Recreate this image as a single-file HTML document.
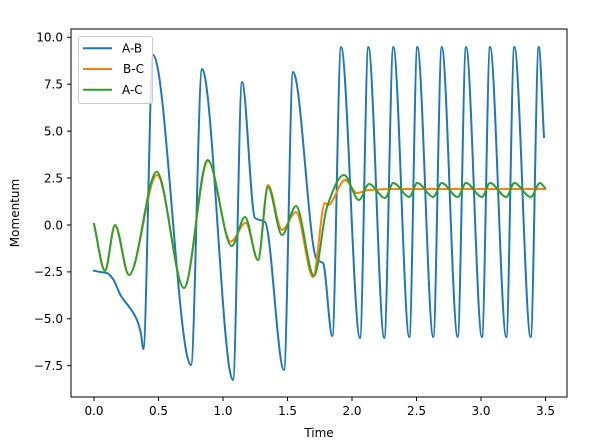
<!DOCTYPE html>
<html><head><meta charset="utf-8"><style>
body{margin:0;background:#fff;}
svg{display:block;font-family:"DejaVu Sans","Liberation Sans",sans-serif;}
</style></head><body>
<svg id="s" width="602" height="444" viewBox="0 0 602 444" xmlns="http://www.w3.org/2000/svg">
<rect width="602" height="444" fill="#fff"/>
<g id="plot" fill="none" stroke-width="2" stroke-linejoin="round" stroke-linecap="square">
<path id="pB" stroke="#1f77b4"/>
<path id="pO" stroke="#ff7f0e"/>
<path id="pG" stroke="#2ca02c"/>
</g>
<rect x="71" y="29" width="496" height="368" fill="none" stroke="#000" stroke-width="1"/>
<g stroke="#000" stroke-width="1">
<line x1="94" y1="397" x2="94" y2="401"/><line x1="158.5" y1="397" x2="158.5" y2="401"/>
<line x1="223" y1="397" x2="223" y2="401"/><line x1="287.5" y1="397" x2="287.5" y2="401"/>
<line x1="352" y1="397" x2="352" y2="401"/><line x1="416.5" y1="397" x2="416.5" y2="401"/>
<line x1="481" y1="397" x2="481" y2="401"/><line x1="545.5" y1="397" x2="545.5" y2="401"/>
<line x1="67" y1="37.3" x2="71" y2="37.3"/><line x1="67" y1="84.2" x2="71" y2="84.2"/>
<line x1="67" y1="131.1" x2="71" y2="131.1"/><line x1="67" y1="178" x2="71" y2="178"/>
<line x1="67" y1="225" x2="71" y2="225"/><line x1="67" y1="271.9" x2="71" y2="271.9"/>
<line x1="67" y1="318.8" x2="71" y2="318.8"/><line x1="67" y1="365.7" x2="71" y2="365.7"/>
</g>
<g font-size="12" fill="#000" text-anchor="middle">
<text x="94" y="415">0.0</text><text x="158.5" y="415">0.5</text><text x="223" y="415">1.0</text>
<text x="287.5" y="415">1.5</text><text x="352" y="415">2.0</text><text x="416.5" y="415">2.5</text>
<text x="481" y="415">3.0</text><text x="545.5" y="415">3.5</text>
<text x="319" y="437">Time</text>
</g>
<g font-size="12" fill="#000" text-anchor="end">
<text x="63" y="41.6">10.0</text><text x="63" y="88.5">7.5</text><text x="63" y="135.4">5.0</text>
<text x="63" y="182.3">2.5</text><text x="63" y="229.3">0.0</text><text x="63" y="276.2">−2.5</text>
<text x="63" y="323.1">−5.0</text><text x="63" y="370">−7.5</text>
</g>
<text x="19" y="213" font-size="12" text-anchor="middle" transform="rotate(-90 19 213)">Momentum</text>
<rect x="78.5" y="36.5" width="74" height="67" rx="2" fill="#fff" fill-opacity="0.8" stroke="#ccc"/>
<line x1="83" y1="48.3" x2="112" y2="48.3" stroke="#1f77b4" stroke-width="2"/>
<line x1="83" y1="69" x2="112" y2="69" stroke="#ff7f0e" stroke-width="2"/>
<line x1="83" y1="89.7" x2="112" y2="89.7" stroke="#2ca02c" stroke-width="2"/>
<g font-size="12" fill="#000">
<text x="122" y="52.5">A-B</text><text x="123" y="73.2">B-C</text><text x="122" y="94">A-C</text>
</g>
</svg>
<script>
function mono(P){
 var n=P.length,d=[],m=[];
 for(var i=0;i<n-1;i++)d.push((P[i+1][1]-P[i][1])/(P[i+1][0]-P[i][0]));
 m[0]=d[0];m[n-1]=d[n-2];
 for(i=1;i<n-1;i++){ if(d[i-1]*d[i]<=0)m[i]=0; else { var w1=2*(P[i+1][0]-P[i][0])+(P[i][0]-P[i-1][0]),w2=(P[i+1][0]-P[i][0])+2*(P[i][0]-P[i-1][0]); m[i]=(w1+w2)/(w1/d[i-1]+w2/d[i]);} }
 var s="M"+P[0][0]+","+P[0][1];
 for(i=0;i<n-1;i++){var h=P[i+1][0]-P[i][0];
  s+="C"+(P[i][0]+h/3).toFixed(2)+","+(P[i][1]+m[i]*h/3).toFixed(2)+" "+(P[i+1][0]-h/3).toFixed(2)+","+(P[i+1][1]-m[i+1]*h/3).toFixed(2)+" "+P[i+1][0]+","+P[i+1][1];}
 return s;}
var B=[[94,270.7],[100,272],[107,273],[113,279],[121,296],[130,308],[137,320],[141,334],[143.3,349],[153,55],[191,365],[202,69],[233,380],[242,82],[255,218],[265,222],[284,370],[293,72],[317,260],[323,263],[332.3,336],[341,47],[360,338],[368.3,47],[384.3,338],[393.3,47],[409.3,337],[417.3,47],[433.3,337],[441.7,47],[457.7,337],[466,47],[482,337],[490,47],[506.3,337],[514.3,47],[530.7,337],[538.7,47],[544,137]];
var O=[[94,224],[105,270],[115,226],[129,275],[157,175],[184,288],[208,161],[230.7,241.7],[245.7,222.7],[258,260],[268,185],[282,230],[296,212],[313,277],[325,203],[328,205],[345,180],[357,193],[369,190],[394,189],[545,189]];
var G=[[94,224],[105,271],[115,225],[129,275],[156.7,171.7],[184,288],[207.7,160],[231.7,246],[245,217],[258,260],[268,187],[282,235],[296,206],[314,276],[327,207],[344,175],[359,200],[369,184],[385,198],[393.3,183],[409.3,197],[417.3,183],[433.3,197],[441.7,183],[457.7,197],[466,183],[482,197],[490,183],[506.3,197],[514.3,183],[530.7,197],[540,183],[545,188]];
document.getElementById("pB").setAttribute("d",mono(B));
document.getElementById("pO").setAttribute("d",mono(O));
document.getElementById("pG").setAttribute("d",mono(G));
</script>
</body></html>
